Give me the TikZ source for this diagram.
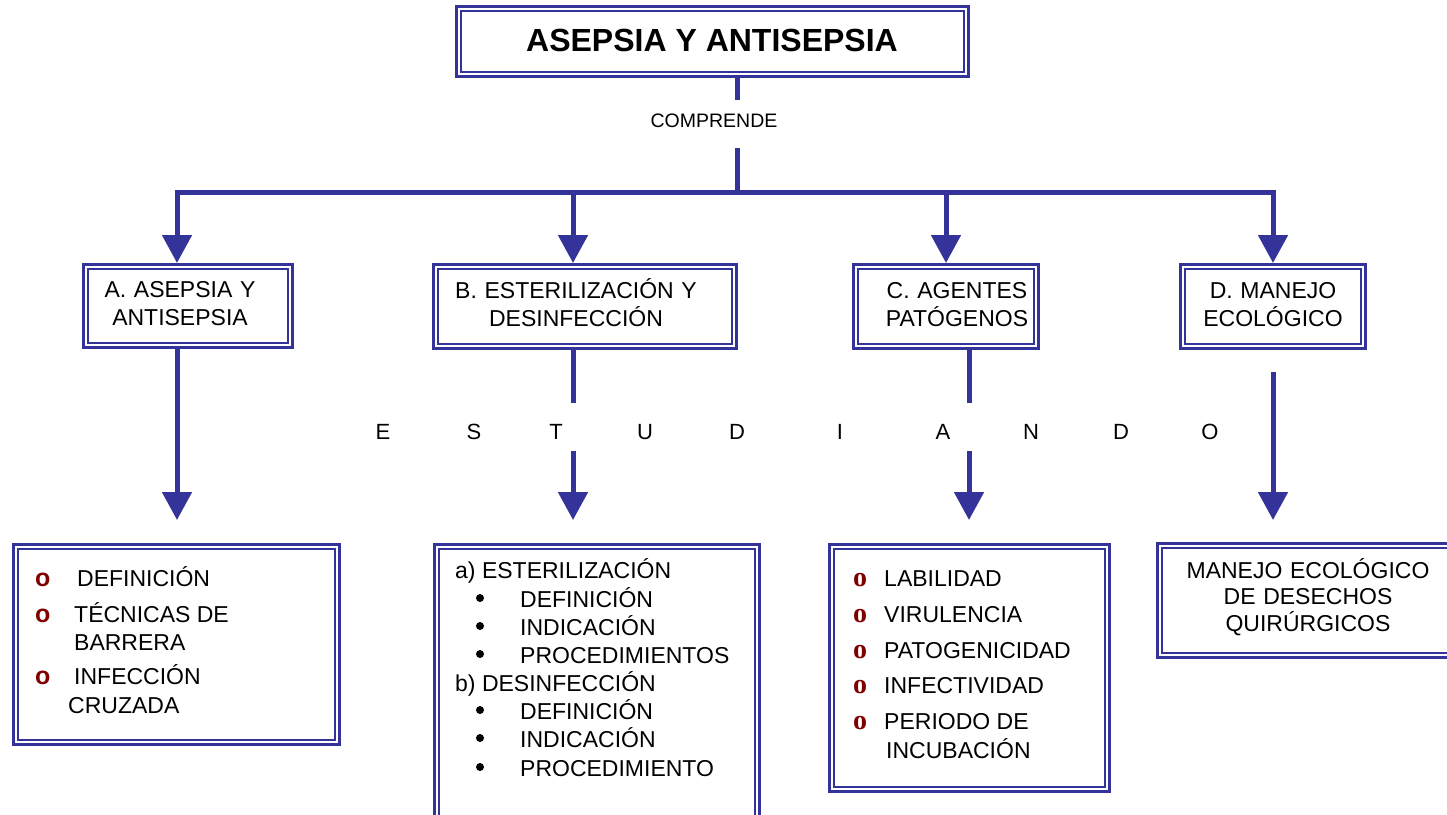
\documentclass[tikz,border=0pt]{standalone}
\usepackage{fontspec}
\setmainfont{Liberation Sans}
\newfontfamily\bulserif{Liberation Serif}
\usetikzlibrary{arrows.meta}
\definecolor{bl}{RGB}{51,51,153}
\definecolor{dred}{RGB}{128,0,0}
\newcommand\dblbox[5]{%
  \node[outerbox, minimum width=#4-#2-3, minimum height=#5-#3-3] (#1) at (#2,#3) {};
  \draw[innerline] ([xshift=6pt,yshift=-6pt]#1.north west) rectangle ([xshift=-6pt,yshift=6pt]#1.south east);}
\begin{document}
\begin{tikzpicture}[x=1pt,y=-1pt,
  outerbox/.style={draw=bl, line width=3pt, inner sep=0pt, anchor=north west},
  innerline/.style={draw=bl, line width=1.7pt},
  conn/.style={draw=bl, line width=5pt},
  arr/.style={conn, -{Triangle[width=29pt,length=28pt]}},
  txt/.style={font=\fontsize{23}{28}\selectfont, inner sep=0pt},
  head/.style={txt, text width=320pt, align=center, anchor=base},
  item/.style={txt, anchor=base west},
  sbul/.style={font=\fontsize{25}{28}\selectfont\bfseries, text=dred, inner sep=0pt, anchor=base west},
  rbul/.style={font=\fontsize{28}{28}\selectfont\bulserif\bfseries, text=dred, inner sep=0pt, anchor=base west},
  dot/.style={circle, fill=black, inner sep=0pt, minimum size=8pt},
  spread/.style={font=\fontsize{22}{26}\selectfont, inner sep=0pt, anchor=base}]
\useasboundingbox (0,0) rectangle (1447,814);
\clip (0,0) rectangle (1447,814);

% title
\dblbox{T}{455}{5}{970}{78}
\node[font=\fontsize{32}{36}\selectfont\bfseries, inner sep=0pt, anchor=base] (title) at (712,51) {ASEPSIA Y ANTISEPSIA};
\node[font=\fontsize{19.5}{22}\selectfont, inner sep=0pt, anchor=base] (comp) at (714,127) {COMPRENDE};

% first-row boxes
\dblbox{A}{82}{263}{294}{349}
\dblbox{B}{432}{263}{738}{350}
\dblbox{C}{852}{263}{1040}{350}
\dblbox{D}{1179}{263}{1367}{350}
\node[head] (At) at (180,297) {A. ASEPSIA Y\\ANTISEPSIA};
\node[head] (Bt) at (576,298) {B. ESTERILIZACIÓN Y\\DESINFECCIÓN};
\node[head] (Ct) at (957,298) {C. AGENTES\\PATÓGENOS};
\node[head] (Dt) at (1273,298) {D. MANEJO\\ECOLÓGICO};

% connectors from the title
\coordinate (s0) at (737,100);
\coordinate (s1) at (737,148);
\coordinate (hj) at (737,192);
\coordinate (h1) at (177,192);
\coordinate (h2) at (573,192);
\coordinate (h3) at (946,192);
\coordinate (h4) at (1273,192);
\draw[conn] (T.south -| s0) -- (s0);
\draw[conn] (s1) -- (hj);
\draw[arr] (hj) -| (A.north -| h1);
\draw[arr] (hj) -| (B.north -| h2);
\draw[arr] (hj) -| (C.north -| h3);
\draw[arr] (hj) -| (D.north -| h4);

% ESTUDIANDO
\node[spread] (e1) at (383,439) {E};
\node[spread] (e2) at (474,439) {S};
\node[spread] (e3) at (556,439) {T};
\node[spread] (e4) at (645,439) {U};
\node[spread] (e5) at (737,439) {D};
\node[spread] (e6) at (840,439) {I};
\node[spread] (e7) at (943,439) {A};
\node[spread] (e8) at (1031,439) {N};
\node[spread] (e9) at (1121,439) {D};
\node[spread] (e10) at (1210,439) {O};

% connectors to the lists
\coordinate (ta) at (177,520);
\coordinate (b0) at (573,403);
\coordinate (b1) at (573,451);
\coordinate (tb) at (573,520);
\coordinate (c0) at (969,403);
\coordinate (c1) at (969,451);
\coordinate (tc) at (969,520);
\coordinate (d1) at (1273,372);
\coordinate (td) at (1273,520);
\draw[arr] (A.south -| ta) -- (ta);
\draw[conn] (B.south -| b0) -- (b0);
\draw[arr] (b1) -- (tb);
\draw[conn] (C.south -| c0) -- (c0);
\draw[arr] (c1) -- (tc);
\draw[arr] (d1) -- (td);

% list boxes
\dblbox{LA}{12}{543}{341}{746}
\dblbox{LB}{433}{543}{761}{822}
\dblbox{LC}{828}{543}{1111}{793}
\dblbox{LD}{1156}{542}{1462}{659}

% list A
\node[sbul] (la1b) at (35,586) {o};
\node[item] (la1) at (77,586) {DEFINICIÓN};
\node[sbul] (la2b) at (35,622) {o};
\node[item] (la2) at (74,622) {TÉCNICAS DE};
\node[item] (la3) at (74,650) {BARRERA};
\node[sbul] (la4b) at (35,684) {o};
\node[item] (la4) at (74,684) {INFECCIÓN};
\node[item] (la5) at (68,713) {CRUZADA};

% list B
\node[item] (lb1) at (455,578) {a) ESTERILIZACIÓN};
\node[dot] (lb2d) at (480,598) {};
\node[item] (lb2) at (520,607) {DEFINICIÓN};
\node[dot] (lb3d) at (480,626) {};
\node[item] (lb3) at (520,635) {INDICACIÓN};
\node[dot] (lb4d) at (480,654) {};
\node[item] (lb4) at (520,663) {PROCEDIMIENTOS};
\node[item] (lb5) at (455,691) {b) DESINFECCIÓN};
\node[dot] (lb6d) at (480,710) {};
\node[item] (lb6) at (520,719) {DEFINICIÓN};
\node[dot] (lb7d) at (480,738) {};
\node[item] (lb7) at (520,747) {INDICACIÓN};
\node[dot] (lb8d) at (480,767) {};
\node[item] (lb8) at (520,776) {PROCEDIMIENTO};

% list C
\node[rbul] (lc1b) at (853,586) {o};
\node[item] (lc1) at (884,586) {LABILIDAD};
\node[rbul] (lc2b) at (853,622) {o};
\node[item] (lc2) at (884,622) {VIRULENCIA};
\node[rbul] (lc3b) at (853,658) {o};
\node[item] (lc3) at (884,658) {PATOGENICIDAD};
\node[rbul] (lc4b) at (853,693) {o};
\node[item] (lc4) at (884,693) {INFECTIVIDAD};
\node[rbul] (lc5b) at (853,729) {o};
\node[item] (lc5) at (884,729) {PERIODO DE};
\node[item] (lc6) at (886,758) {INCUBACIÓN};

% list D
\node[txt, text width=280pt, align=center, anchor=base,
      font=\fontsize{23}{26.5}\selectfont] (ld) at (1308,578)
  {MANEJO ECOLÓGICO\\DE DESECHOS\\QUIRÚRGICOS};
\end{tikzpicture}
\end{document}
